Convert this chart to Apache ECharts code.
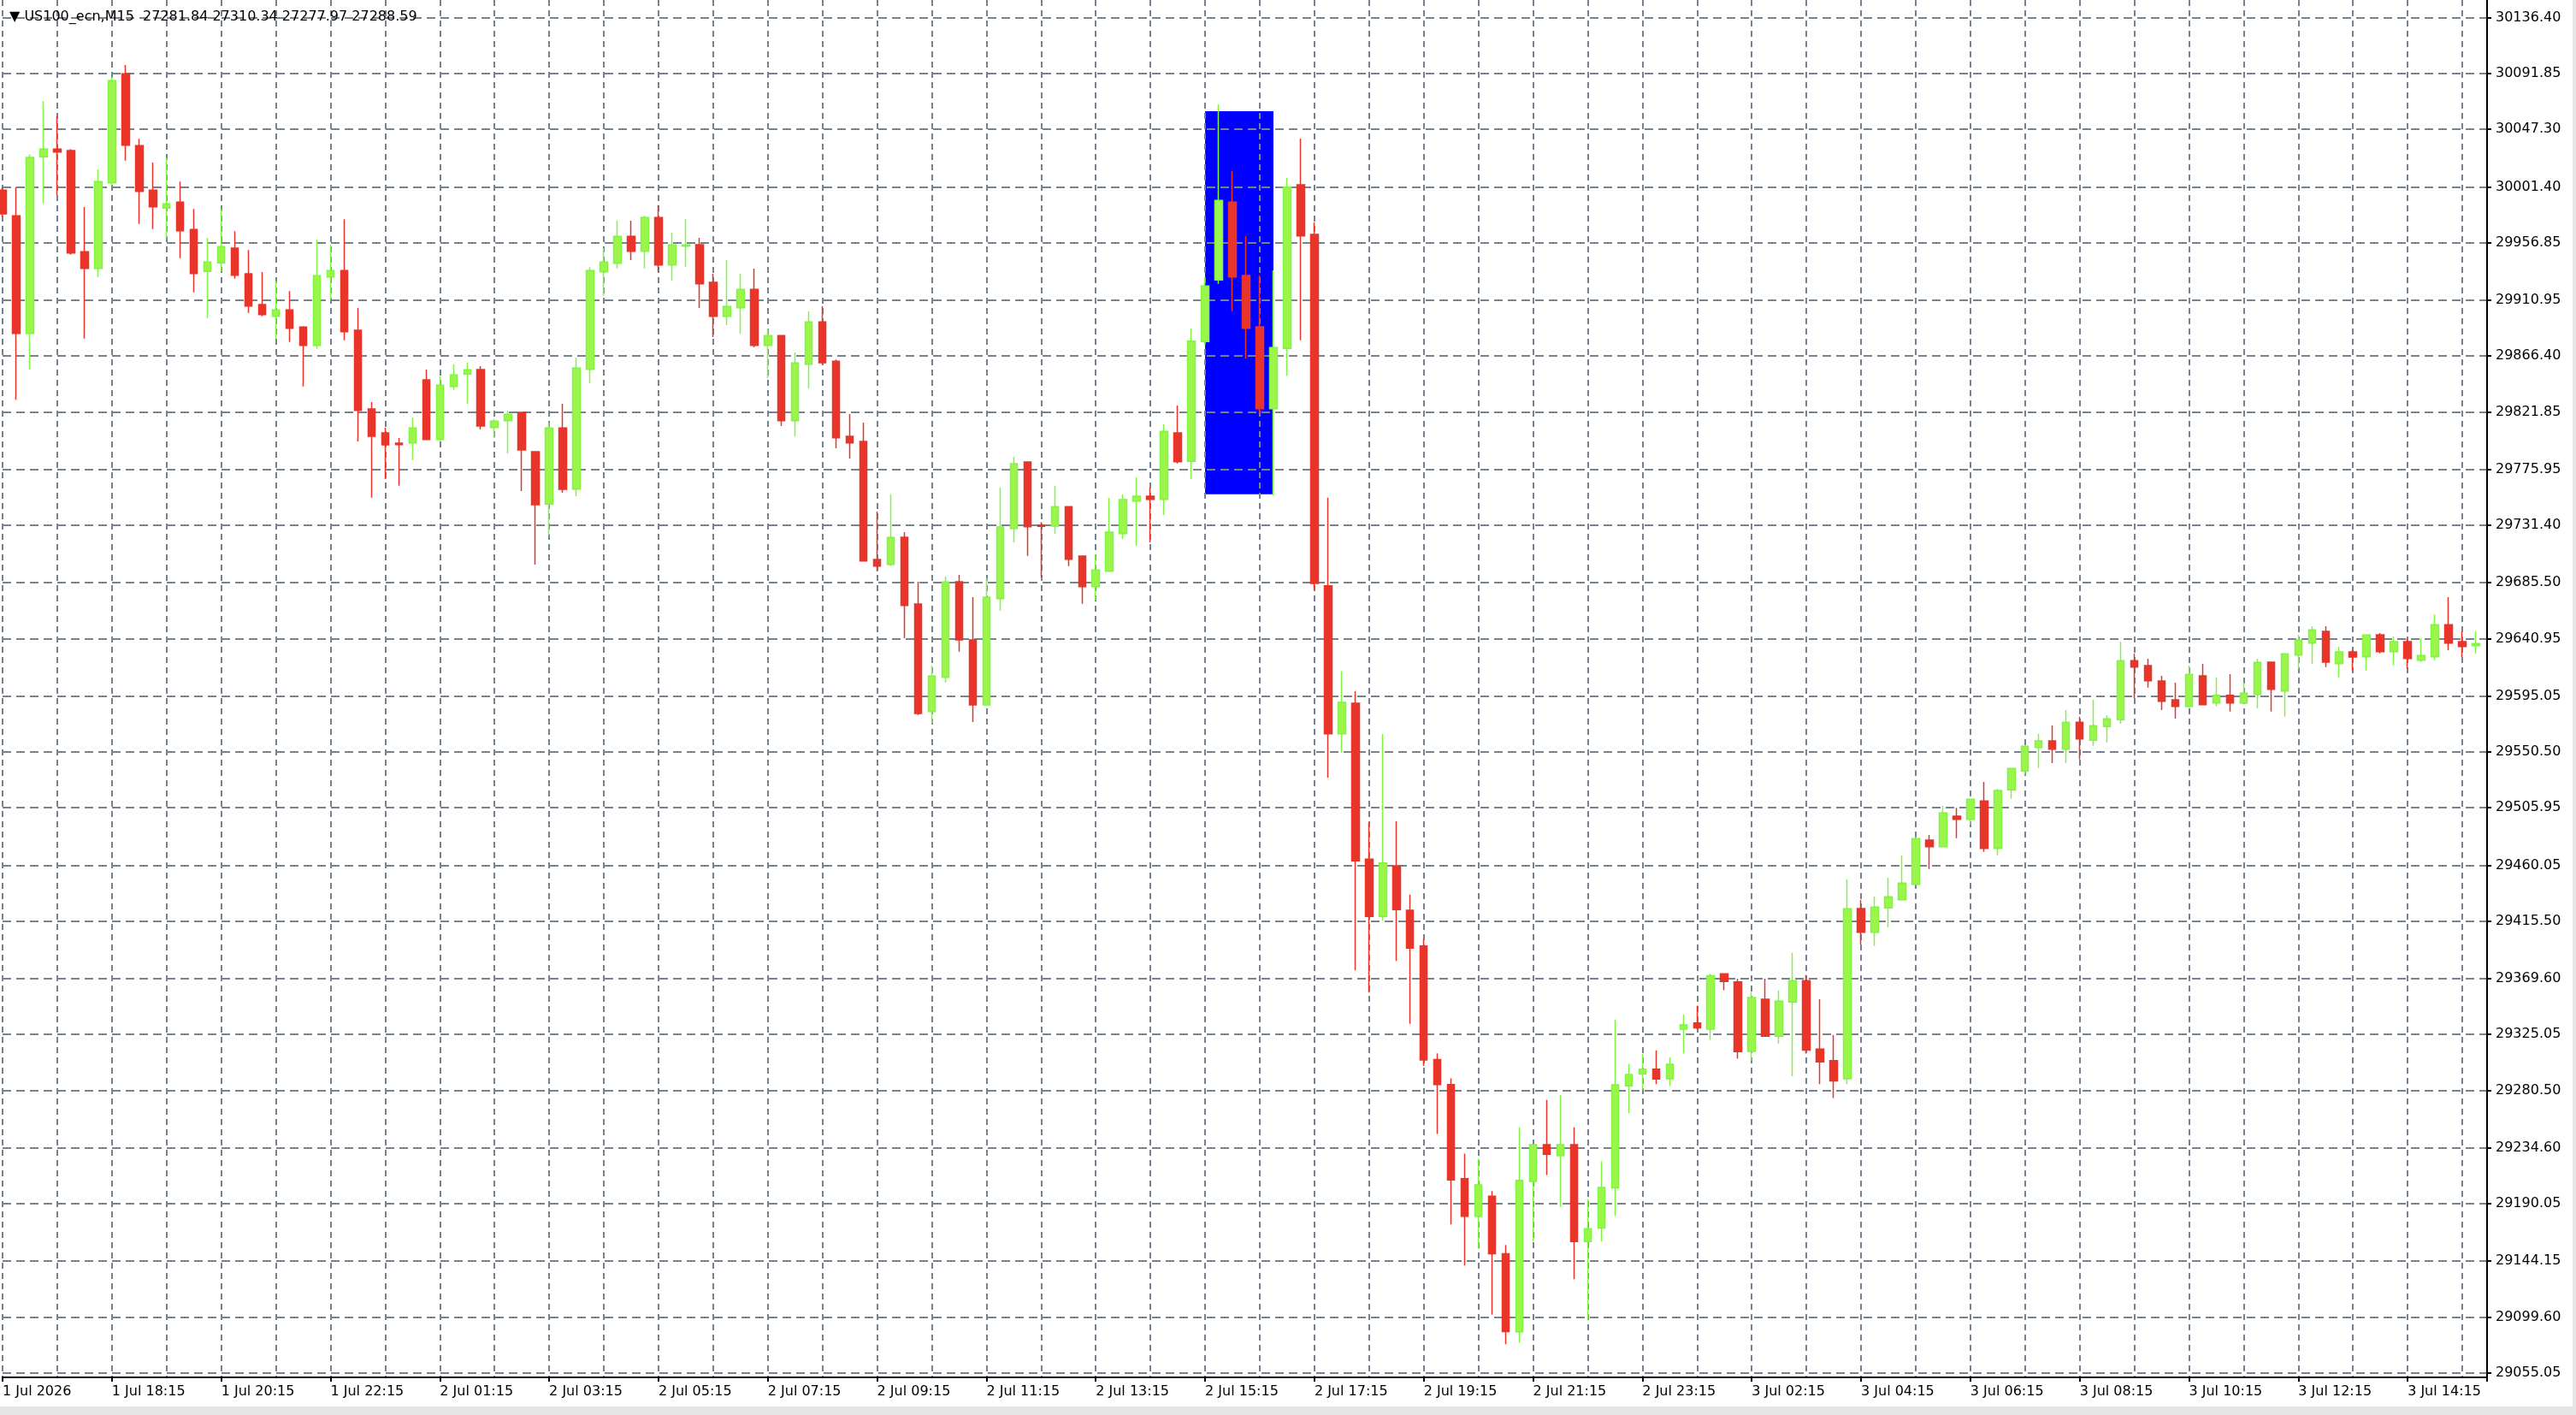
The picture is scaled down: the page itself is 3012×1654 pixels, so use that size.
<!DOCTYPE html>
<html><head><meta charset="utf-8">
<script src="https://cdn.jsdelivr.net/npm/echarts@6/dist/echarts.min.js"></script>
<style>html,body{margin:0;padding:0;background:#fff}#c{width:3012px;height:1654px}</style>
</head><body><div id="c"></div>
<script>
const openP = [29998.75,29978.27,29884.51,30025.37,30031.52,30030.38,29949.6,29936.4,30004.67,30091.59,
30034.25,29998.75,29984.41,29989.19,29967.34,29933.89,29940.72,29952.55,29932.07,29907.5,
29898.17,29903.17,29889.52,29874.96,29929.57,29934.57,29887.02,29824.21,29805.09,29796.9,
29797.13,29847.42,29799.86,29842.19,29851.97,29855.61,29809.42,29814.88,29821.48,29790.07,
29748.2,29808.96,29760.26,29855.84,29933.67,29940.49,29961.88,29950.05,29976.9,29939.13,
29954.15,29955.28,29925.25,29898.17,29904.99,29919.56,29874.96,29882.7,29814.88,29859.94,
29893.62,29862.22,29802.37,29798.27,29704.06,29700.19,29721.81,29668.56,29582.77,29610.08,
29686.31,29639.89,29588.01,29672.89,29728.87,29781.89,29731.6,29730.69,29746.16,29706.79,
29682.44,29694.73,29724.77,29750.71,29754.58,29752.08,29805.1,29782.34,29877.91,29927.06,
29989.19,29930.71,29889.74,29824.43,29872.45,30003.07,29963.47,29683.0,29565.0,29589.29,
29465.0,29419.28,29459.67,29424.16,29395.75,29305.0,29285.0,29210.0,29180.0,29196.0,
29150.0,29087.83,29207.79,29237.07,29228.34,29237.07,29159.76,29170.54,29202.65,29284.08,
29293.58,29297.44,29289.73,29329.29,29334.17,29329.29,29373.47,29367.05,29311.57,29353.18,
29323.64,29350.87,29368.08,29313.36,29304.12,29289.73,29425.53,29406.64,29425.99,29432.58,
29444.87,29480.14,29474.91,29499.26,29496.76,29511.32,29473.55,29520.2,29535.21,29554.1,
29559.34,29552.74,29574.13,29559.79,29570.71,29576.17,29623.28,29619.41,29607.12,29592.1,
29586.87,29611.22,29589.6,29595.74,29589.6,29596.42,29622.14,29599.15,29627.83,29637.38,
29646.71,29621.0,29630.33,29626.46,29643.98,29630.56,29638.52,29623.73,29626.46,29651.95,
29638.52,29635.34];
const highP = [30001.0,30001.25,30027.19,30069.75,30057.69,30031.52,29985.32,30015.36,30089.09,30098.65,
30039.71,30020.82,30024.69,30005.57,29983.73,29960.52,29983.73,29965.98,29950.96,29933.44,
29926.38,29918.19,29890.2,29959.15,29955.06,29975.54,29904.76,29829.67,29809.19,29801.0,
29817.38,29855.61,29850.15,29859.71,29861.07,29858.34,29816.02,29822.84,29821.9,29790.5,
29813.29,29828.3,29865.17,29937.31,29952.55,29974.4,29974.4,29978.49,29986.91,29964.84,
29975.54,29960.74,29932.07,29943.0,29932.07,29936.17,29888.39,29883.1,29869.27,29902.04,
29906.14,29863.58,29820.12,29813.29,29742.29,29755.95,29725.91,29686.31,29619.18,29690.41,
29691.77,29674.02,29689.04,29761.41,29785.98,29782.3,29733.87,29762.77,29746.5,29707.1,
29708.16,29753.21,29755.95,29769.6,29761.41,29811.93,29826.94,29888.38,29929.34,30067.24,
30013.99,29962.11,29930.71,29934.8,30008.53,30039.93,29973.03,29753.4,29615.0,29599.06,
29494.3,29564.88,29495.18,29436.59,29401.08,29310.0,29290.0,29230.0,29226.0,29200.0,
29157.0,29250.94,29237.5,29272.78,29276.63,29250.94,29193.66,29223.72,29337.0,29301.55,
29309.51,29312.34,29306.94,29341.11,29348.04,29373.47,29373.9,29369.62,29358.83,29369.62,
29360.11,29390.17,29372.44,29353.18,29324.67,29448.99,29432.36,29435.09,29450.11,29467.86,
29482.65,29484.24,29507.45,29505.86,29512.9,29526.57,29520.88,29537.5,29555.2,29565.02,
29571.62,29583.91,29578.68,29592.1,29579.82,29638.53,29628.97,29624.87,29611.22,29605.76,
29619.41,29620.77,29609.85,29612.58,29605.75,29624.87,29622.5,29628.97,29643.98,29650.81,
29650.81,29634.43,29631.7,29643.98,29645.35,29642.62,29641.25,29641.25,29660.14,29674.02,
29646.71,29646.71];
const lowP = [29977.5,29831.49,29855.84,29988.28,29994.65,29947.32,29880.42,29929.57,30002.62,30022.41,
29971.9,29967.8,29960.52,29944.59,29917.28,29896.8,29933.89,29928.2,29900.9,29898.17,
29880.42,29877.69,29842.19,29872.23,29911.59,29879.05,29798.27,29753.44,29768.23,29763.0,
29783.48,29799.3,29798.49,29839.46,29828.3,29807.82,29801.0,29788.71,29758.67,29699.96,
29723.17,29757.31,29754.58,29844.92,29914.55,29936.4,29943.0,29936.4,29933.67,29926.84,
29937.76,29904.76,29881.55,29891.11,29884.28,29873.36,29848.79,29810.56,29802.37,29840.6,
29859.94,29792.81,29784.62,29702.5,29694.5,29698.83,29641.26,29580.04,29573.21,29605.98,
29630.56,29574.35,29587.6,29663.33,29717.72,29707.02,29689.95,29724.77,29698.83,29668.79,
29671.52,29694.3,29720.45,29714.98,29717.72,29739.56,29780.75,29768.46,29875.18,29924.11,
29902.26,29864.26,29820.57,29755.03,29850.6,29879.05,29680.0,29530.0,29550.0,29376.22,
29358.46,29415.73,29383.77,29333.6,29300.0,29245.7,29173.5,29140.7,29153.8,29101.4,
29077.8,29078.84,29159.76,29212.93,29187.24,29129.7,29096.82,29159.76,29180.05,29262.25,
29281.0,29285.36,29283.82,29309.77,29329.29,29320.81,29360.37,29305.66,29304.37,29323.3,
29317.73,29291.79,29309.77,29285.36,29274.32,29285.36,29396.86,29395.72,29410.74,29432.2,
29444.5,29457.16,29474.5,29481.74,29492.66,29470.81,29468.08,29513.14,29532.26,29537.72,
29541.59,29541.59,29544.54,29555.47,29558.2,29572.99,29593.47,29601.89,29583.91,29577.09,
29585.96,29587.8,29586.87,29582.77,29589.2,29585.5,29582.77,29578.67,29616.45,29620.77,
29618.27,29609.85,29615.54,29615.54,29629.19,29619.63,29616.9,29622.37,29623.73,29631.7,
29626.23,29629.19];
const closeP = [29979.86,29884.51,30024.92,30031.52,30029.24,29948.68,29936.4,30005.57,30086.13,30034.7,
29997.84,29985.55,29987.83,29966.44,29932.3,29941.4,29953.69,29930.94,29906.36,29899.53,
29903.17,29888.61,29874.96,29930.48,29934.57,29885.88,29823.07,29802.36,29795.54,29795.76,
29808.96,29799.86,29843.1,29851.29,29855.38,29810.56,29814.42,29819.89,29791.44,29747.75,
29808.96,29760.04,29856.75,29934.58,29941.4,29961.88,29950.05,29976.9,29939.13,29955.06,
29955.06,29924.11,29898.17,29905.9,29919.56,29874.95,29882.7,29814.88,29860.85,29893.62,
29861.08,29801.23,29797.13,29702.92,29698.83,29721.58,29667.42,29581.18,29610.99,29686.08,
29639.89,29588.01,29674.02,29730.0,29780.52,29730.23,29730.46,29746.16,29704.29,29682.44,
29695.64,29725.91,29751.85,29754.58,29752.08,29806.24,29782.11,29878.37,29922.29,29990.55,
29929.57,29888.61,29824.43,29873.13,30001.25,29962.34,29685.0,29565.0,29590.0,29463.67,
29419.28,29461.89,29424.6,29393.97,29304.7,29285.0,29208.9,29180.0,29205.0,29150.0,
29088.0,29208.56,29237.07,29229.37,29237.07,29159.76,29170.03,29202.91,29284.85,29293.07,
29297.44,29289.47,29301.29,29332.63,29330.32,29371.93,29367.31,29311.31,29354.46,29323.64,
29351.64,29368.08,29312.59,29303.09,29287.93,29425.36,29406.64,29426.67,29434.86,29445.78,
29481.28,29474.91,29501.76,29496.76,29512.69,29473.55,29519.74,29537.26,29555.01,29559.34,
29552.74,29574.13,29560.93,29571.4,29576.86,29623.28,29618.27,29607.35,29590.97,29586.87,
29612.35,29588.23,29595.74,29589.6,29597.33,29621.91,29600.52,29628.74,29639.66,29647.85,
29622.14,29630.33,29626.23,29643.76,29630.56,29638.52,29625.1,29627.37,29651.95,29637.38,
29634.65,29636.93];

const xTickBars = [0,8,16,24,32,40,48,56,64,72,80,88,96,104,112,120,128,136,144,152,160,168,176];
const xTickLabels = ['1 Jul 2026','1 Jul 18:15','1 Jul 20:15','1 Jul 22:15','2 Jul 01:15','2 Jul 03:15',
  '2 Jul 05:15','2 Jul 07:15','2 Jul 09:15','2 Jul 11:15','2 Jul 13:15','2 Jul 15:15','2 Jul 17:15',
  '2 Jul 19:15','2 Jul 21:15','2 Jul 23:15','3 Jul 02:15','3 Jul 04:15','3 Jul 06:15','3 Jul 08:15',
  '3 Jul 10:15','3 Jul 12:15','3 Jul 14:15'];
const yTicks = [29055.05,29099.60,29144.15,29190.05,29234.60,29280.50,29325.05,29369.60,29415.50,
  29460.05,29505.95,29550.50,29595.05,29640.95,29685.50,29731.40,29775.95,29821.85,29866.40,
  29910.95,29956.85,30001.40,30047.30,30091.85,30136.40];
const rectBars = [88, 93];
const rectPrices = [29756.15, 30061.78];
const titleText = '\u25BC US100_ecn,M15  27281.84 27310.34 27277.97 27288.59';

const candles = openP.map((o, i) => [i, o, closeP[i], lowP[i], highP[i]]);
const FONT = 'DejaVu Sans';
const GRID = '#78828E';
const xMax = 2909 / 16;

const chart = echarts.init(document.getElementById('c'), null, {renderer: 'canvas'});
chart.setOption({
  animation: false,
  backgroundColor: '#ffffff',
  title: {text: titleText, left: 6, top: 7,
    textStyle: {fontFamily: FONT, fontSize: 16, fontWeight: 'normal', color: '#000'}},
  grid: {left: -1, right: 104, top: 0, bottom: 44, containLabel: false},
  xAxis: [{
    type: 'value', min: 0, max: xMax, interval: 8, position: 'bottom', z: 1.5,
    axisLine: {show: true, onZero: false, lineStyle: {color: '#000', width: 2}},
    axisTick: {show: true, length: 5, lineStyle: {color: '#000', width: 2}},
    axisLabel: {show: true, align: 'left', margin: 9, color: '#000', fontFamily: FONT, fontSize: 16,
      formatter: v => { const k = xTickBars.indexOf(v); return k >= 0 ? xTickLabels[k] : ''; }},
    splitLine: {show: false}
  }, {
    type: 'value', min: 0, max: xMax, interval: 4, position: 'bottom', z: 1.5,
    axisLine: {show: false}, axisTick: {show: false}, axisLabel: {show: false},
    splitLine: {show: true, showMaxLine: false, lineStyle: {color: GRID, width: 2, type: [7, 5]}}
  }],
  yAxis: {
    type: 'value', position: 'right', min: 29051.43, max: 30150.53, z: 1.5,
    axisLine: {show: true, onZero: false, lineStyle: {color: '#000', width: 2}},
    axisTick: {show: true, length: 5, customValues: yTicks, lineStyle: {color: '#000', width: 2}},
    axisLabel: {show: true, customValues: yTicks, margin: 10, color: '#000', fontFamily: FONT, fontSize: 16,
      formatter: v => v.toFixed(2)},
    splitLine: {show: true, lineStyle: {color: GRID, width: 2, type: [10, 6]}}
  },
  graphic: [
    {type: 'rect', shape: {x: 0, y: 1644, width: 3012, height: 10}, style: {fill: '#E6E6E6'}, silent: true},
    {type: 'rect', shape: {x: 3008, y: 0, width: 4, height: 1654}, style: {fill: '#E6E6E6'}, silent: true}
  ],
  series: [{
    type: 'candlestick', xAxisIndex: 0, yAxisIndex: 0, z: 2,
    encode: {x: 0, y: [1, 2, 3, 4]},
    data: candles,
    barWidth: 9,
    clip: true,
    itemStyle: {color: '#9CF54B', borderColor: '#7FF542', color0: '#E9342A', borderColor0: '#E9342A', borderWidth: 1.5},
    emphasis: {disabled: true},
    markArea: {
      silent: true, z: 1,
      itemStyle: {color: '#0000FF', opacity: 1, borderWidth: 0},
      data: [[{coord: [rectBars[0], rectPrices[1]]}, {coord: [rectBars[1], rectPrices[0]]}]]
    }
  }]
});
</script>
</body></html>
